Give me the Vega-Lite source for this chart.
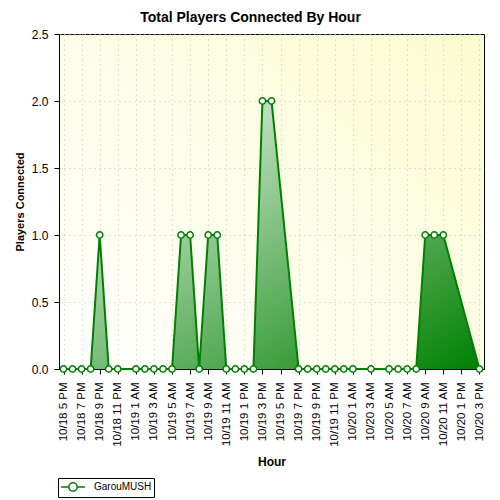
{
  "$schema": "https://vega.github.io/schema/vega-lite/v6.json",
  "width": 425,
  "height": 335,
  "autosize": {"type": "none"},
  "padding": {"left": 59, "top": 34, "right": 16, "bottom": 131},
  "background": "white",
  "title": {
    "text": "Total Players Connected By Hour",
    "font": "Liberation Sans",
    "fontSize": 14,
    "fontWeight": "bold",
    "color": "black",
    "anchor": "middle",
    "frame": "group",
    "dx": -21,
    "offset": 3
  },
  "data": {
    "values": [
      {"t": "2008-10-18T17:00:00", "v": 0, "series": "GarouMUSH"},
      {"t": "2008-10-18T18:00:00", "v": 0, "series": "GarouMUSH"},
      {"t": "2008-10-18T19:00:00", "v": 0, "series": "GarouMUSH"},
      {"t": "2008-10-18T20:00:00", "v": 0, "series": "GarouMUSH"},
      {"t": "2008-10-18T21:00:00", "v": 1, "series": "GarouMUSH"},
      {"t": "2008-10-18T22:00:00", "v": 0, "series": "GarouMUSH"},
      {"t": "2008-10-18T23:00:00", "v": 0, "series": "GarouMUSH"},
      {"t": "2008-10-19T01:00:00", "v": 0, "series": "GarouMUSH"},
      {"t": "2008-10-19T02:00:00", "v": 0, "series": "GarouMUSH"},
      {"t": "2008-10-19T03:00:00", "v": 0, "series": "GarouMUSH"},
      {"t": "2008-10-19T04:00:00", "v": 0, "series": "GarouMUSH"},
      {"t": "2008-10-19T05:00:00", "v": 0, "series": "GarouMUSH"},
      {"t": "2008-10-19T06:00:00", "v": 1, "series": "GarouMUSH"},
      {"t": "2008-10-19T07:00:00", "v": 1, "series": "GarouMUSH"},
      {"t": "2008-10-19T08:00:00", "v": 0, "series": "GarouMUSH"},
      {"t": "2008-10-19T09:00:00", "v": 1, "series": "GarouMUSH"},
      {"t": "2008-10-19T10:00:00", "v": 1, "series": "GarouMUSH"},
      {"t": "2008-10-19T11:00:00", "v": 0, "series": "GarouMUSH"},
      {"t": "2008-10-19T12:00:00", "v": 0, "series": "GarouMUSH"},
      {"t": "2008-10-19T13:00:00", "v": 0, "series": "GarouMUSH"},
      {"t": "2008-10-19T14:00:00", "v": 0, "series": "GarouMUSH"},
      {"t": "2008-10-19T15:00:00", "v": 2, "series": "GarouMUSH"},
      {"t": "2008-10-19T16:00:00", "v": 2, "series": "GarouMUSH"},
      {"t": "2008-10-19T19:00:00", "v": 0, "series": "GarouMUSH"},
      {"t": "2008-10-19T20:00:00", "v": 0, "series": "GarouMUSH"},
      {"t": "2008-10-19T21:00:00", "v": 0, "series": "GarouMUSH"},
      {"t": "2008-10-19T22:00:00", "v": 0, "series": "GarouMUSH"},
      {"t": "2008-10-19T23:00:00", "v": 0, "series": "GarouMUSH"},
      {"t": "2008-10-20T00:00:00", "v": 0, "series": "GarouMUSH"},
      {"t": "2008-10-20T01:00:00", "v": 0, "series": "GarouMUSH"},
      {"t": "2008-10-20T03:00:00", "v": 0, "series": "GarouMUSH"},
      {"t": "2008-10-20T05:00:00", "v": 0, "series": "GarouMUSH"},
      {"t": "2008-10-20T06:00:00", "v": 0, "series": "GarouMUSH"},
      {"t": "2008-10-20T07:00:00", "v": 0, "series": "GarouMUSH"},
      {"t": "2008-10-20T08:00:00", "v": 0, "series": "GarouMUSH"},
      {"t": "2008-10-20T09:00:00", "v": 1, "series": "GarouMUSH"},
      {"t": "2008-10-20T10:00:00", "v": 1, "series": "GarouMUSH"},
      {"t": "2008-10-20T11:00:00", "v": 1, "series": "GarouMUSH"},
      {"t": "2008-10-20T15:00:00", "v": 0, "series": "GarouMUSH"}
    ]
  },
  "layer": [
    {
      "mark": {
        "type": "area",
        "line": false,
        "color": {
          "gradient": "linear",
          "x1": 0, "y1": 0, "x2": 1, "y2": 1,
          "stops": [
            {"offset": 0, "color": "#ffffff"},
            {"offset": 1, "color": "#008000"}
          ]
        }
      },
      "encoding": {
        "x": {
          "field": "t",
          "type": "temporal",
          "scale": {"domain": [{"year": 2008, "month": 10, "date": 18, "hours": 16, "minutes": 30}, {"year": 2008, "month": 10, "date": 20, "hours": 15, "minutes": 30}]},
          "axis": {
            "title": "Hour",
            "format": "%-m/%-d %-I %p",
            "labelAngle": -90,
            "labelPadding": 8,
            "labelFontSize": 11.5,
            "labelOverlap": false,
            "labelBound": false,
            "labelFlush": false,
            "tickCount": 100,
            "tickSize": 5,
            "titlePadding": 10,
            "grid": true,
            "values": [
              {"year": 2008, "month": 10, "date": 18, "hours": 17},
              {"year": 2008, "month": 10, "date": 18, "hours": 19},
              {"year": 2008, "month": 10, "date": 18, "hours": 21},
              {"year": 2008, "month": 10, "date": 18, "hours": 23},
              {"year": 2008, "month": 10, "date": 19, "hours": 1},
              {"year": 2008, "month": 10, "date": 19, "hours": 3},
              {"year": 2008, "month": 10, "date": 19, "hours": 5},
              {"year": 2008, "month": 10, "date": 19, "hours": 7},
              {"year": 2008, "month": 10, "date": 19, "hours": 9},
              {"year": 2008, "month": 10, "date": 19, "hours": 11},
              {"year": 2008, "month": 10, "date": 19, "hours": 13},
              {"year": 2008, "month": 10, "date": 19, "hours": 15},
              {"year": 2008, "month": 10, "date": 19, "hours": 17},
              {"year": 2008, "month": 10, "date": 19, "hours": 19},
              {"year": 2008, "month": 10, "date": 19, "hours": 21},
              {"year": 2008, "month": 10, "date": 19, "hours": 23},
              {"year": 2008, "month": 10, "date": 20, "hours": 1},
              {"year": 2008, "month": 10, "date": 20, "hours": 3},
              {"year": 2008, "month": 10, "date": 20, "hours": 5},
              {"year": 2008, "month": 10, "date": 20, "hours": 7},
              {"year": 2008, "month": 10, "date": 20, "hours": 9},
              {"year": 2008, "month": 10, "date": 20, "hours": 11},
              {"year": 2008, "month": 10, "date": 20, "hours": 13},
              {"year": 2008, "month": 10, "date": 20, "hours": 15}
            ]
          }
        },
        "y": {
          "field": "v",
          "type": "quantitative",
          "scale": {"domain": [0, 2.5], "nice": false},
          "axis": {
            "title": "Players Connected",
            "format": ".1f",
            "values": [0, 0.5, 1, 1.5, 2, 2.5],
            "tickCount": 100,
            "labelFontSize": 12,
            "labelOverlap": false,
            "labelBound": false,
            "labelFlush": false,
            "tickSize": 5,
            "labelPadding": 6,
            "titlePadding": 6,
            "titleFontSize": 11,
            "grid": true
          }
        }
      }
    },
    {
      "mark": {
        "type": "line",
        "strokeWidth": 2,
        "point": {"filled": true, "fill": "white", "stroke": "#008000", "strokeWidth": 1.5, "size": 40}
      },
      "encoding": {
        "x": {"field": "t", "type": "temporal"},
        "y": {"field": "v", "type": "quantitative"},
        "stroke": {
          "field": "series",
          "type": "nominal",
          "scale": {"range": ["#008000"]},
          "legend": {
            "orient": "none",
            "legendX": -1,
            "legendY": 444,
            "title": null,
            "strokeColor": "black",
            "fillColor": "white",
            "padding": 2,
            "cornerRadius": 0,
            "symbolType": "M-1,0L0.3,0M1.7,0L3,0M1.7,0A0.7,0.7,0,1,1,0.3,0A0.7,0.7,0,1,1,1.7,0",
            "symbolSize": 144,
            "symbolStrokeColor": "#008000",
            "symbolFillColor": "white",
            "symbolStrokeWidth": 1.5,
            "labelFontSize": 10,
            "labelOffset": 20
          }
        }
      }
    }
  ],
  "config": {
    "font": "Liberation Sans",
    "view": {
      "stroke": "black",
      "strokeWidth": 1,
      "fill": {
        "gradient": "linear",
        "x1": 0, "y1": 1, "x2": 1, "y2": 0,
        "stops": [
          {"offset": 0, "color": "#ffffff"},
          {"offset": 1, "color": "#fbfbd0"}
        ]
      }
    },
    "axis": {
      "domainColor": "black",
      "domainWidth": 1,
      "tickColor": "black",
      "tickWidth": 1,
      "labelColor": "black",
      "labelFont": "Liberation Sans",
      "titleFont": "Liberation Sans",
      "titleColor": "black",
      "titleFontWeight": "bold",
      "titleFontSize": 12,
      "gridColor": "#c0c0c0",
      "gridDash": [1, 4],
      "gridWidth": 1
    },
    "legend": {"labelFont": "Liberation Sans", "labelColor": "black"}
  }
}
